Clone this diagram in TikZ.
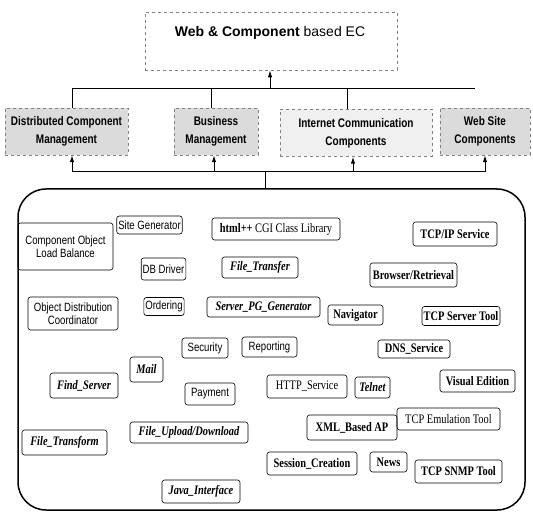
\documentclass[tikz,border=0pt]{standalone}
\usepackage{fontspec}
\usetikzlibrary{arrows.meta}
\newfontfamily\nsans[FakeStretch=0.8]{Liberation Sans}
\newfontfamily\nserif[FakeStretch=0.8]{Liberation Serif}
\newfontfamily\tsans{Liberation Sans}
\tikzset{
  box/.style={draw, rounded corners=2.5pt, line width=0.6pt, inner sep=1.5pt, align=center},
  sansbox/.style={box, font=\nsans\fontsize{12}{13.5}\selectfont},
  serifb/.style={box, font=\nserif\bfseries\fontsize{13}{14}\selectfont},
  serifr/.style={box, font=\nserif\fontsize{13}{14}\selectfont},
  serifbi/.style={box, font=\nserif\bfseries\itshape\fontsize{13}{14}\selectfont},
  cat/.style={draw=gray, dashed, fill=gray!28, align=center, inner sep=1pt,
    font=\nsans\bfseries\fontsize{12.5}{18}\selectfont, minimum height=47pt},
  arr/.style={-{Latex[length=7pt,width=4.5pt]}, line width=1pt},
  bus/.style={line width=1pt},
}
\begin{document}
\begin{tikzpicture}[x=1pt,y=-1pt]
\useasboundingbox (0,0) rectangle (533,516);
% top box
\node[draw=gray, dashed, line width=0.6pt, minimum width=252pt, minimum height=58pt] (topbox) at (271,41) {};
\node[font=\tsans\fontsize{14}{16}\selectfont] (toptxt) at (270,33) {{\bfseries Web \& Component} based EC};
% categories
\node[cat, minimum width=123pt] (dcm) at (66.5,131.5) {Distributed Component\\Management};
\node[cat, minimum width=84pt] (bm) at (216,131.5) {Business\\Management};
\node[cat, minimum width=152pt, fill=gray!12] (icc) at (356,133) {Internet Communication\\Components};
\node[cat, minimum width=90pt] (wsc) at (485,131.5) {Web Site\\Components};
% upper bus
\coordinate (a1) at (72,89);
\coordinate (a2) at (211,89);
\coordinate (a3) at (347,89);
\coordinate (a4) at (475,89);
\coordinate (at) at (270,89);
\draw[bus] (a1) -- (a4);
\draw[bus] (a1) -- (a1 |- dcm.north);
\draw[bus] (a2) -- (a2 |- bm.north);
\draw[bus] (a3) -- (a3 |- icc.north);
\draw[arr] (at) -- (at |- topbox.south);
% panel
\node[draw, rounded corners=28pt, line width=1.5pt, minimum width=507pt, minimum height=321pt] (panel) at (271.5,349.5) {};
% lower bus
\coordinate (b1) at (72,172);
\coordinate (b2) at (214,172);
\coordinate (b3) at (353,172);
\coordinate (b4) at (485,172);
\coordinate (bc) at (265,172);
\draw[bus] (b1) -- (b4);
\draw[arr] (b1) -- (b1 |- dcm.south);
\draw[arr] (b2) -- (b2 |- bm.south);
\draw[arr] (b3) -- (b3 |- icc.south);
\draw[arr] (b4) -- (b4 |- wsc.south);
\draw[bus] (bc) -- (bc |- panel.north);
% inner components
\node[sansbox, minimum width=95pt, minimum height=47pt] (n1) at (65.5,246.5) {Component Object\\Load Balance};
\node[sansbox, minimum width=65pt, minimum height=18pt] (n2) at (149.5,225) {Site Generator};
\node[serifr, minimum width=128pt, minimum height=22pt] (n3) at (276,229) {{\bfseries html++} CGI Class Library};
\node[serifb, minimum width=84pt, minimum height=24pt] (n4) at (455,234) {TCP/IP Service};
\node[sansbox, minimum width=37pt, minimum height=22pt] (n5) at (163.5,269) {DB Driver};
\node[serifbi, minimum width=76pt, minimum height=21pt] (n6) at (260,267.5) {File\_Transfer};
\node[serifb, minimum width=87pt, minimum height=24pt] (n7) at (413.5,275) {Browser/Retrieval};
\node[sansbox, minimum width=90pt, minimum height=33pt] (n8) at (73,313.5) {Object Distribution\\Coordinator};
\node[sansbox, minimum width=38pt, minimum height=18pt] (n9) at (164,306.5) {Ordering};
\node[serifbi, minimum width=113pt, minimum height=20pt] (n10) at (263.5,307) {Server\_PG\_Generator};
\node[serifb, minimum width=55pt, minimum height=20pt] (n11) at (355.5,315) {Navigator};
\node[serifb, minimum width=78pt, minimum height=19pt] (n12) at (461,316) {TCP Server Tool};
\node[sansbox, minimum width=46pt, minimum height=20pt] (n13) at (205,348) {Security};
\node[sansbox, minimum width=55pt, minimum height=20pt] (n14) at (269.5,347) {Reporting};
\node[serifb, minimum width=72pt, minimum height=18pt] (n15) at (414,349) {DNS\_Service};
\node[serifbi, minimum width=33pt, minimum height=25pt] (n16) at (146.5,369.5) {Mail};
\node[serifbi, minimum width=68pt, minimum height=25pt] (n17) at (84,385.5) {Find\_Server};
\node[sansbox, minimum width=50pt, minimum height=22pt] (n18) at (210,394) {Payment};
\node[serifr, minimum width=80pt, minimum height=23pt] (n19) at (307,386.5) {HTTP\_Service};
\node[serifbi, minimum width=35pt, minimum height=21pt] (n20) at (372.5,387.5) {Telnet};
\node[serifb, minimum width=75pt, minimum height=22pt] (n21) at (477.5,381) {Visual Edition};
\node[serifr, minimum width=103pt, minimum height=22pt] (n22) at (448.5,419) {TCP Emulation Tool};
\node[serifb, minimum width=90pt, minimum height=25pt] (n23) at (352,427.5) {XML\_Based AP};
\node[serifbi, minimum width=85pt, minimum height=25pt] (n24) at (64.5,442.5) {File\_Transform};
\node[serifbi, minimum width=118pt, minimum height=21pt] (n25) at (189,432.5) {File\_Upload/Download};
\node[serifb, minimum width=90pt, minimum height=23pt] (n26) at (312,463.5) {Session\_Creation};
\node[serifb, minimum width=37pt, minimum height=20pt] (n27) at (388.5,462) {News};
\node[serifb, minimum width=87pt, minimum height=23pt] (n28) at (458.5,471.5) {TCP SNMP Tool};
\node[serifbi, minimum width=78pt, minimum height=23pt] (n29) at (201,491.5) {Java\_Interface};
\end{tikzpicture}
\end{document}
